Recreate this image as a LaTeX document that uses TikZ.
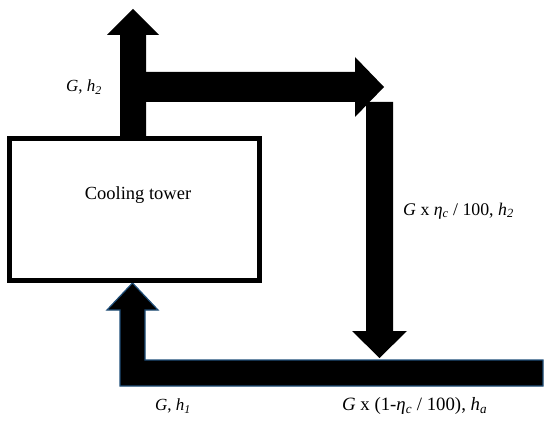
\documentclass[tikz,border=0pt]{standalone}
\usepackage{fontspec}
\setmainfont{Liberation Serif}
\definecolor{edgeblue}{HTML}{1F4E79}
\begin{document}
\begin{tikzpicture}[x=1pt,y=-1pt,
  flow/.style={fill=black},
  inflow/.style={fill=black,draw=edgeblue,line width=1.2pt,line join=miter},
  lbl/.style={inner sep=0pt,font=\fontsize{17}{20}\selectfont},
  towerbox/.style={draw=black,line width=4.5pt,fill=white}]
\useasboundingbox (0,0) rectangle (550,428);
% outflow up
\fill[flow] (120,137) -- (120,35) -- (107,35) -- (133,9) -- (159,35) -- (146,35) -- (146,137) -- cycle;
% outflow right
\fill[flow] (146,72) -- (355,72) -- (355,57) -- (384,87) -- (355,117) -- (355,102) -- (146,102) -- cycle;
% down
\fill[flow] (366,102) -- (393,102) -- (393,331) -- (407,331) -- (379.5,358) -- (352,331) -- (366,331) -- cycle;
% return to tower
\filldraw[inflow] (543,360) -- (145,360) -- (145,310) -- (158,310) -- (132.5,283) -- (107,310) -- (120,310) -- (120,386) -- (543,386) -- cycle;
% tower
\node[towerbox,minimum width=250pt,minimum height=142pt,inner sep=0pt] (tower) at (134.5,209.5) {};
\node[inner sep=0pt,font=\fontsize{18.5}{20}\selectfont] (towertext) at (138,195) {Cooling tower};
\node[lbl,anchor=west] (g2) at (66,87) {\textit{G}, \textit{h}\textsubscript{\textit{2}}};
\node[lbl,anchor=west,font=\fontsize{17.8}{20}\selectfont] (split) at (403,211) {\textit{G} x \textit{η}\textsubscript{\textit{c}} / 100, \textit{h}\textsubscript{\textit{2}}};
\node[lbl,anchor=west] (g1) at (155,406) {\textit{G}, \textit{h}\textsubscript{\textit{1}}};
\node[lbl,anchor=west,font=\fontsize{18.8}{20}\selectfont] (ga) at (342,406) {\textit{G} x (1-\textit{η}\textsubscript{\textit{c}} / 100), \textit{h}\textsubscript{\textit{a}}};
\end{tikzpicture}
\end{document}
